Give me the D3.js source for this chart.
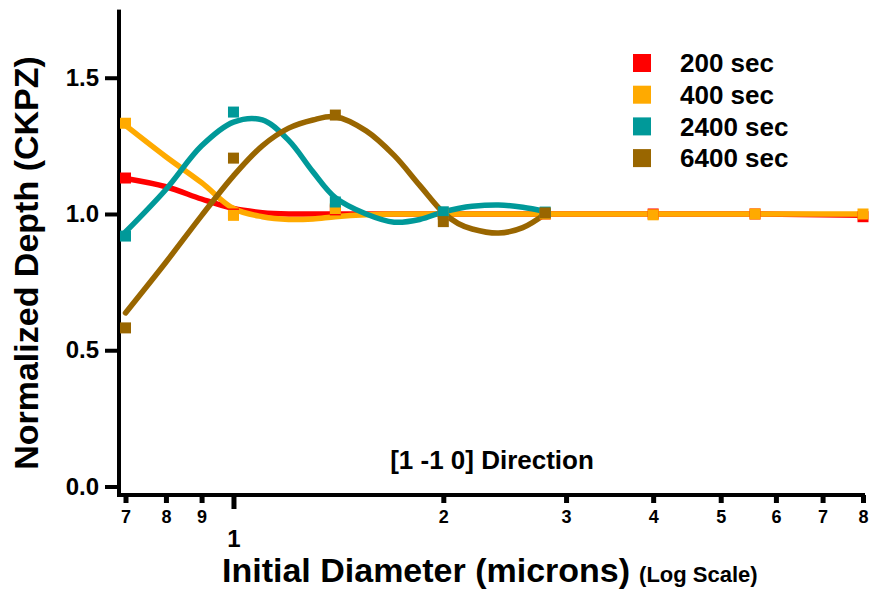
<!DOCTYPE html>
<html>
<head>
<title>Normalized Depth</title>
<script src="https://d3js.org/d3.v7.min.js"></script>
<style>
  body { margin: 0; background: #fff; }
  text { font-family: "Liberation Sans", Arial, sans-serif; font-weight: bold; fill: #000; }
</style>
</head>
<body>
<div id="chartDiv"></div>
<script>
// measured points (diameter in microns)
var diameters = [0.7, 1.0, 1.4, 2.0, 2.8, 4.0, 5.6, 8.0];
var depth200  = [1.132, 1.0, 1.015, 1.0, 1.0, 1.0, 1.0, 0.99];
var depth400  = [1.333, 0.995, 1.02, 1.0, 1.0, 0.997, 1.0, 1.0];
var depth2400 = [0.919, 1.374, 1.044, 1.008, 1.007];
var depth6400 = [0.582, 1.205, 1.363, 0.972, 1.004];

// smoothed fit curves
var fitX    = [0.7, 0.8, 0.9, 1.0, 1.1, 1.2, 1.3, 1.4, 1.55, 1.7, 1.85, 2.0, 2.1, 2.2, 2.4, 2.6, 2.8, 4.0, 5.6, 8.0];
var fit200  = [1.13, 1.10, 1.055, 1.02, 1.005, 1.0, 1.0, 1.0, 1.0, 1.0, 1.0, 1.0, 1.0, 1.0, 1.0, 1.0, 1.0, 1.0, 1.0, 0.995];
var fit400  = [1.325, 1.21, 1.115, 1.02, 0.99, 0.98, 0.982, 0.99, 0.997, 1.0, 1.0, 1.0, 1.0, 1.0, 1.0, 1.0, 1.0, 1.0, 1.0, 1.0];
var fit2400 = [0.934, 1.09, 1.25, 1.337, 1.345, 1.27, 1.155, 1.06, 1.0, 0.97, 0.98, 1.008, 1.02, 1.028, 1.033, 1.025, 1.01];
var fit6400 = [0.637, 0.823, 0.994, 1.14, 1.25, 1.315, 1.345, 1.357, 1.305, 1.215, 1.105, 1.005, 0.965, 0.945, 0.93, 0.95, 1.0];

var seriesNames  = ["200 sec", "400 sec", "2400 sec", "6400 sec"];
var seriesColors = ["#ff0000", "#ffaa00", "#009999", "#996600"];
var yTicks = [0, 0.5, 1.0, 1.5];
var xTicks = [0.7, 0.8, 0.9, 1, 2, 3, 4, 5, 6, 7, 8];

var series = [
  {name: seriesNames[0], color: seriesColors[0], pts: depth200,  fit: fit200},
  {name: seriesNames[1], color: seriesColors[1], pts: depth400,  fit: fit400},
  {name: seriesNames[2], color: seriesColors[2], pts: depth2400, fit: fit2400},
  {name: seriesNames[3], color: seriesColors[3], pts: depth6400, fit: fit6400}
];

var W = 869, H = 589;
var axisX = 119, axisY = 495;

var svg = d3.select('#chartDiv').append('svg')
  .attr('width', W).attr('height', H);

var x = d3.scaleLog().domain([0.7, 8]).range([125.5, 863]);
var y = d3.scaleLinear().domain([0, 1.75]).range([486.5, 9.6]);

// axis frame drawn as filled bars
svg.append('rect')
  .attr('x', axisX - 2).attr('y', y(1.75))
  .attr('width', 4).attr('height', axisY + 2 - y(1.75))
  .attr('fill', '#000');
svg.append('rect')
  .attr('x', axisX - 2).attr('y', axisY - 2)
  .attr('width', x(8) + 2 - (axisX - 2)).attr('height', 4)
  .attr('fill', '#000');

// y axis ticks
var yAxis = d3.axisLeft(y).tickValues(yTicks).tickFormat(d3.format('.1f'))
  .tickSize(14).tickSizeOuter(0).tickPadding(6);
var gy = svg.append('g').attr('transform', 'translate(' + axisX + ',0)').call(yAxis);
gy.select('.domain').remove();
gy.selectAll('.tick line').remove();
gy.selectAll('.tick').append('rect')
  .attr('x', -14).attr('y', -2).attr('width', 14).attr('height', 4)
  .attr('fill', '#000');
gy.selectAll('.tick text')
  .style('font-size', '24px')
  .style('font-family', '"Liberation Sans", Arial, sans-serif')
  .style('font-weight', 'bold')
  .attr('fill', '#000');

// x axis ticks (log)
var xAxis = d3.axisBottom(x).tickValues(xTicks)
  .tickFormat(function(d) { return d < 1 ? Math.round(d * 10) : d; })
  .tickSize(8).tickSizeOuter(0);
var gx = svg.append('g').attr('transform', 'translate(0,' + axisY + ')').call(xAxis);
gx.select('.domain').remove();
gx.selectAll('.tick line').remove();
gx.selectAll('.tick').append('rect')
  .attr('x', -2.5).attr('y', 0).attr('width', 5)
  .attr('height', function(d) { return d === 1 ? 14 : 8; })
  .attr('fill', '#000');
gx.selectAll('.tick text')
  .style('font-family', '"Liberation Sans", Arial, sans-serif')
  .style('font-weight', 'bold')
  .style('font-size', function(d) { return d === 1 ? '24px' : '18px'; })
  .attr('y', function(d) { return d === 1 ? 35 : 15; })
  .attr('dy', '0.71em')
  .attr('fill', '#000');

// fitted curves
var line = d3.line()
  .defined(function(d) { return d[1] != null; })
  .x(function(d) { return x(d[0]); })
  .y(function(d) { return y(d[1]); })
  .curve(d3.curveCatmullRom.alpha(0.5));

series.forEach(function(s) {
  var pts = s.fit.map(function(v, i) { return [fitX[i], v]; });
  svg.append('path')
    .datum(pts)
    .attr('d', line)
    .attr('fill', 'none')
    .attr('stroke', s.color)
    .attr('stroke-width', 5.5)
    .attr('stroke-linecap', 'round')
    .attr('stroke-linejoin', 'round');
});

// data squares
var sq = 11;
series.forEach(function(s) {
  svg.append('g').selectAll('rect')
    .data(s.pts)
    .enter().append('rect')
    .attr('x', function(d, i) { return x(diameters[i]) - sq / 2; })
    .attr('y', function(d) { return y(d) - sq / 2; })
    .attr('width', sq).attr('height', sq)
    .attr('fill', s.color);
});

// legend
var legend = svg.append('g').attr('transform', 'translate(633,54)');
series.forEach(function(s, i) {
  var row = legend.append('g').attr('transform', 'translate(0,' + (i * 31.7) + ')');
  row.append('rect').attr('width', 18).attr('height', 18).attr('fill', s.color);
  row.append('text').attr('x', 47).attr('y', 9).attr('dy', '0.35em')
    .style('font-size', '26px').text(s.name);
});

// annotations and titles
svg.append('text')
  .attr('x', 492).attr('y', 469)
  .attr('text-anchor', 'middle')
  .style('font-size', '26px')
  .text('[1 -1 0] Direction');

var xt = svg.append('text')
  .attr('x', 222).attr('y', 582)
  .style('font-size', '34px');
xt.append('tspan').text('Initial Diameter (microns)');
xt.append('tspan').attr('dx', 9).style('font-size', '22px').text('(Log Scale)');

svg.append('text')
  .attr('transform', 'translate(38,263) rotate(-90)')
  .attr('text-anchor', 'middle')
  .style('font-size', '34px')
  .text('Normalized Depth (CKPZ)');
</script>
</body>
</html>
